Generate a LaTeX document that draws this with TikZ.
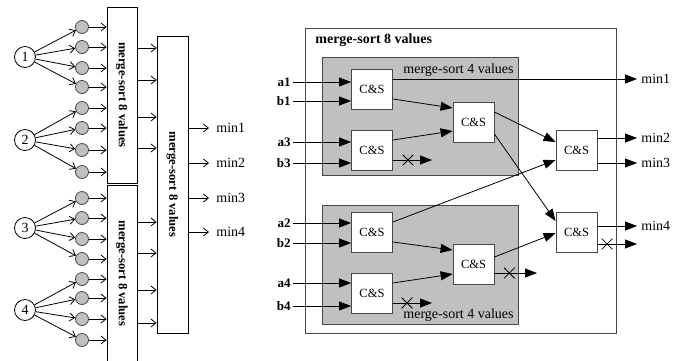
\documentclass[tikz,border=0pt]{standalone}
\usepackage{fontspec}
\setmainfont{Liberation Serif}
\usetikzlibrary{arrows.meta,calc,shapes.misc}
\definecolor{boxgray}{RGB}{192,192,192}
\definecolor{edge}{RGB}{70,70,70}
\begin{document}
\begin{tikzpicture}[x=1pt,y=-1pt,line width=0.8pt,
  oarr/.style={-{Straight Barb[length=5pt,width=8pt]}},
  farr/.style={-{Triangle[length=12pt,width=9pt]}},
  csbox/.style={draw=edge,fill=white,minimum width=41pt,minimum height=40pt,inner sep=0,font=\fontsize{12.5}{14}\selectfont},
  gdot/.style={circle,draw=edge,fill=boxgray,minimum size=13pt,inner sep=0},
  num/.style={circle,draw,fill=white,minimum size=21pt,inner sep=0,font=\fontsize{14}{16}\selectfont},
  msbox/.style={draw,inner sep=0},
  mstext/.style={rotate=-90,inner sep=0,font=\bfseries\fontsize{12.7}{14}\selectfont},
  inl/.style={anchor=east,inner sep=0,font=\bfseries\fontsize{13}{15}\selectfont},
  outl/.style={anchor=west,inner sep=0,font=\fontsize{14}{16}\selectfont},
  xm/.style={cross out,draw,minimum size=10pt,inner sep=0},
  gbox/.style={draw=edge,fill=boxgray,inner sep=0,minimum width=196pt}]
\clip (0,0) rectangle (693,360);
% ---------------- left part ----------------
\foreach \i/\y in {1/27,2/47,3/68,4/87,5/108,6/128,7/150,8/172,9/198,10/218,11/239,12/259,13/279,14/298,15/319,16/340}
  \node[gdot] (d\i) at (82,\y) {};
\node[num] (c1) at (25,57) {1};
\node[num] (c2) at (25,140) {2};
\node[num] (c3) at (25,228) {3};
\node[num] (c4) at (25,310) {4};
\foreach \i in {1,...,16}{
  \pgfmathtruncatemacro\g{int((\i-1)/4)+1}
  \draw[oarr] (c\g) -- (d\i);
}
\node[msbox,minimum width=30pt,minimum height=176pt] (m1) at (122,95) {};
\node[mstext] (m1t) at (m1.center) {merge-sort 8 values};
\node[msbox,minimum width=30pt,minimum height=177pt] (m2) at (122,273.5) {};
\node[mstext] (m2t) at (m2.center) {merge-sort 8 values};
\node[msbox,minimum width=31pt,minimum height=297pt] (m3) at (172.5,184.5) {};
\node[mstext] (m3t) at (m3.center) {merge-sort 8 values};
\foreach \i in {1,...,8} \draw[oarr] (d\i) -- (d\i -| m1.west);
\foreach \i in {9,...,16} \draw[oarr] (d\i) -- (d\i -| m2.west);
\foreach \y in {48,80,117,148}
  \draw[oarr] ($(m1.east)+(0,\y-95)$) coordinate (t) -- (t -| m3.west);
\foreach \y in {222,253,290,323}
  \draw[oarr] ($(m2.east)+(0,\y-273.5)$) coordinate (t) -- (t -| m3.west);
\foreach \i/\y in {1/128,2/163,3/198,4/232}{
  \node[outl] (l\i) at (216,\y) {min\i};
  \draw[oarr,shorten >=7pt] (l\i.west -| m3.east) -- (l\i.west);
}
% ---------------- right part ----------------
\node[draw=edge,minimum width=311pt,minimum height=305pt,inner sep=0] (outer) at (460.5,180.5) {};
\node[anchor=west,inner sep=0,font=\bfseries\fontsize{14}{16}\selectfont] (outert) at (315,40) {merge-sort 8 values};
\node[gbox,minimum height=118pt] (g1) at (420,116) {};
\node[gbox,minimum height=119pt] (g2) at (420,264.5) {};
\node[anchor=east,inner sep=0,font=\fontsize{14}{16}\selectfont] (g1t) at (514,70) {merge-sort 4 values};
\node[anchor=east,inner sep=0,font=\fontsize{14}{16}\selectfont] (g2t) at (514,315) {merge-sort 4 values};
\node[csbox] (A) at (372,89) {C\&S};
\node[csbox] (B) at (372,150) {C\&S};
\node[csbox] (C) at (473.5,122) {C\&S};
\node[csbox] (D) at (372,232) {C\&S};
\node[csbox] (E) at (372,293) {C\&S};
\node[csbox] (F) at (473.5,264.5) {C\&S};
\node[csbox] (G) at (576.5,150.5) {C\&S};
\node[csbox] (H) at (576.5,232) {C\&S};
% inputs
\node[inl] (a1) at (291,82) {a1};
\node[inl] (b1) at (291,101) {b1};
\node[inl] (a3) at (291,142) {a3};
\node[inl] (b3) at (291,163) {b3};
\node[inl] (a2) at (291,223) {a2};
\node[inl] (b2) at (291,243) {b2};
\node[inl] (a4) at (291,283) {a4};
\node[inl] (b4) at (291,306) {b4};
\draw[farr,shorten <=2pt] (a1.east) -- (a1.east -| A.west);
\draw[farr,shorten <=2pt] (b1.east) -- (b1.east -| A.west);
\draw[farr,shorten <=2pt] (a3.east) -- (a3.east -| B.west);
\draw[farr,shorten <=2pt] (b3.east) -- (b3.east -| B.west);
\draw[farr,shorten <=2pt] (a2.east) -- (a2.east -| D.west);
\draw[farr,shorten <=2pt] (b2.east) -- (b2.east -| D.west);
\draw[farr,shorten <=2pt] (a4.east) -- (a4.east -| E.west);
\draw[farr,shorten <=2pt] (b4.east) -- (b4.east -| E.west);
% outputs labels
\node[outl] (r1) at (641,79) {min1};
\node[outl] (r2) at (641,138) {min2};
\node[outl] (r3) at (641,163) {min3};
\node[outl] (r4) at (641,226) {min4};
% internal connections
\draw[farr] ($(A.east)+(0,10)$) -- ($(C.west)+(0,-14)$);
\draw[farr] ($(B.east)+(0,-10)$) -- ($(C.west)+(0,9)$);
\draw[farr] ($(D.east)+(0,10)$) -- ($(F.west)+(0,-14.5)$);
\draw[farr] ($(E.east)+(0,-10)$) -- ($(F.west)+(0,9.5)$);
\draw[farr] ($(C.east)+(0,-10)$) -- ($(G.west)+(0,-8.5)$);
\draw[farr] ($(C.east)+(0,12)$) -- ($(H.west)+(0,-11)$);
\draw[farr] ($(D.east)+(0,-10)$) -- ($(G.west)+(0,9.5)$);
\draw[farr] ($(F.east)+(0,-7.5)$) -- ($(H.west)+(0,1)$);
% outputs
\draw[farr,shorten >=4pt] ($(A.east)+(0,-10)$) coordinate (t) -- (t -| r1.west);
\draw[farr,shorten >=4pt] ($(G.east)+(0,-12.5)$) coordinate (t) -- (t -| r2.west);
\draw[farr,shorten >=4pt] ($(G.east)+(0,12.5)$) coordinate (t) -- (t -| r3.west);
\draw[farr,shorten >=4pt] ($(H.east)+(0,-6)$) coordinate (t) -- (t -| r4.west);
% discarded outputs
\coordinate (eB) at (432,160);
\coordinate (eE) at (432,303);
\coordinate (eF) at (537,273);
\coordinate (eH) at (637,244);
\draw[farr] ($(B.east)+(0,10)$) -- (eB) node[xm,pos=0.385] (xB) {};
\draw[farr] ($(E.east)+(0,10)$) -- (eE) node[xm,pos=0.36] (xE) {};
\draw[farr] ($(F.east)+(0,8.5)$) -- (eF) node[xm,pos=0.35] (xF) {};
\draw[farr] ($(H.east)+(0,12)$) -- (eH) node[xm,pos=0.245] (xH) {};
\end{tikzpicture}
\end{document}
